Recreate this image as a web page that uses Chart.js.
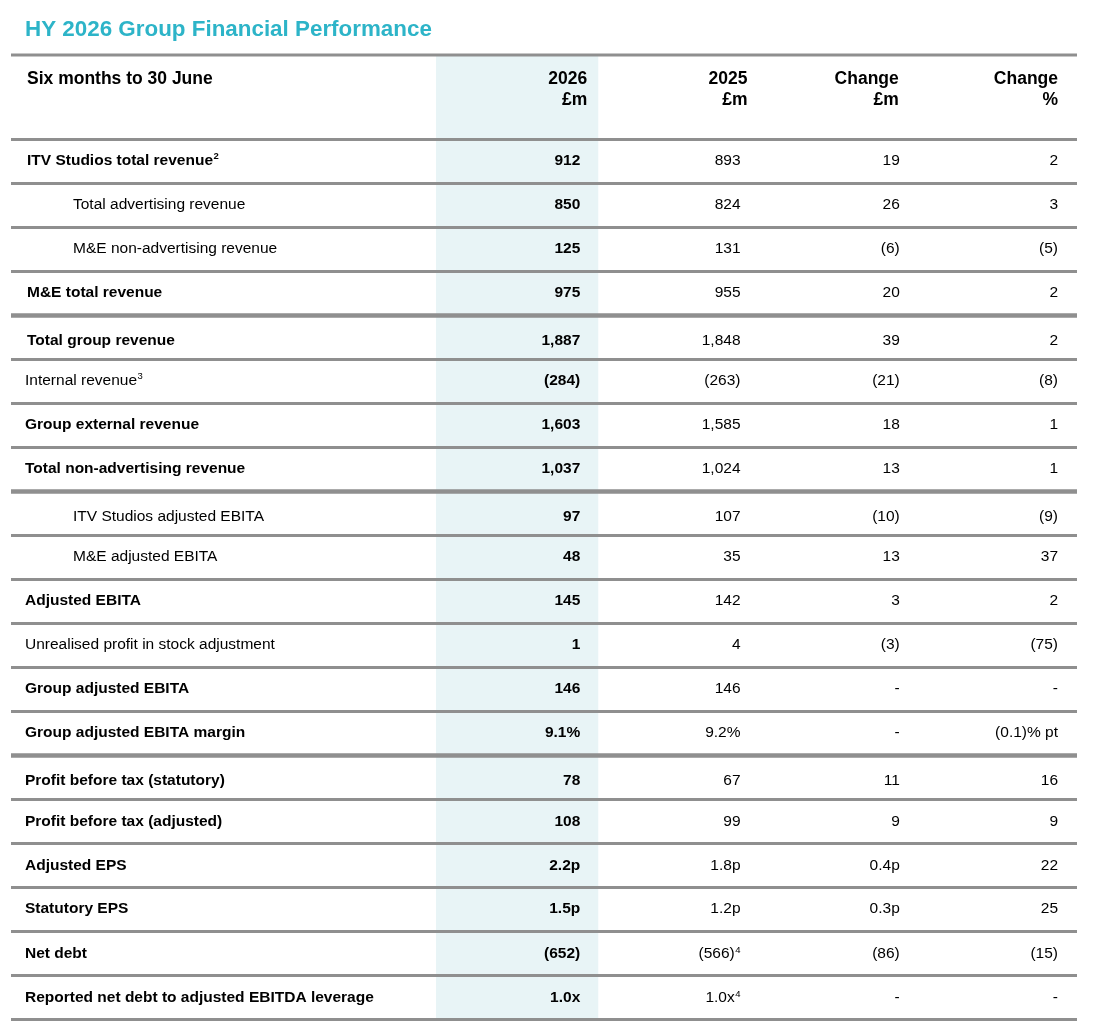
<!DOCTYPE html>
<html><head><meta charset="utf-8">
<script src="https://cdn.jsdelivr.net/npm/chart.js@4.4.1/dist/chart.umd.min.js"></script>
<style>html,body{margin:0;padding:0;background:#fff}#wrap{position:relative;width:1093px;height:1031px}</style>
</head><body><div id="wrap"><canvas id="c"></canvas></div>
<script>
// ---------- DATA ----------
const title = 'HY 2026 Group Financial Performance';
const stubHeader = 'Six months to 30 June';
const columnHeaders = [['2026', '£m'], ['2025', '£m'], ['Change', '£m'], ['Change', '%']];
const rowLabels = [
  'ITV Studios total revenue', 'Total advertising revenue', 'M&E non-advertising revenue', 'M&E total revenue',
  'Total group revenue', 'Internal revenue', 'Group external revenue', 'Total non-advertising revenue',
  'ITV Studios adjusted EBITA', 'M&E adjusted EBITA', 'Adjusted EBITA', 'Unrealised profit in stock adjustment',
  'Group adjusted EBITA', 'Group adjusted EBITA margin', 'Profit before tax (statutory)', 'Profit before tax (adjusted)',
  'Adjusted EPS', 'Statutory EPS', 'Net debt', 'Reported net debt to adjusted EBITDA leverage'
];
const rowLabelNotes = ['2', '', '', '', '', '3', '', '', '', '', '', '', '', '', '', '', '', '', '', ''];
const values2026 = ['912', '850', '125', '975', '1,887', '(284)', '1,603', '1,037', '97', '48', '145', '1', '146', '9.1%', '78', '108', '2.2p', '1.5p', '(652)', '1.0x'];
const values2025 = ['893', '824', '131', '955', '1,848', '(263)', '1,585', '1,024', '107', '35', '142', '4', '146', '9.2%', '67', '99', '1.8p', '1.2p', '(566)', '1.0x'];
const notes2025 = ['', '', '', '', '', '', '', '', '', '', '', '', '', '', '', '', '', '', '4', '4'];
const changeAbs = ['19', '26', '(6)', '20', '39', '(21)', '18', '13', '(10)', '13', '3', '(3)', '-', '-', '11', '9', '0.4p', '0.3p', '(86)', '-'];
const changePct = ['2', '3', '(5)', '2', '2', '(8)', '1', '1', '(9)', '37', '2', '(75)', '-', '(0.1)% pt', '16', '9', '22', '25', '(15)', '-'];

// ---------- STYLE ----------
const boldRows = new Set([0, 3, 4, 6, 7, 10, 12, 13, 14, 15, 16, 17, 18, 19]);
const labelX = [27, 73, 73, 27, 27, 25, 25, 25, 73, 73, 25, 25, 25, 25, 25, 25, 25, 25, 25, 25];
const sectionBreaks = new Set([4, 8, 14]);
const textShift = [-0.5, -0.5, -0.5, -0.5, 3.5, -0.5, -0.5, -0.5, 3.5, -0.5, -0.5, -0.5, -0.5, -0.5, 3.5, 1, 1, -0.5, 1, 1];
const FONT = '"Liberation Sans", Arial, sans-serif';
const columns = [values2026, values2025, changeAbs, changePct];
const columnNotes = [null, notes2025, null, null];
const columnBold = [true, false, false, false];
const headerInset = [9, 9, 18, 19];
const valueInset = [16, 16, 17, 19];

const tablePlugin = {
  id: 'tablePlugin',
  beforeDraw(chart) {
    const ctx = chart.ctx, xs = chart.scales.x, ca = chart.chartArea;
    const colW = xs.getPixelForValue(1) - xs.getPixelForValue(0);
    ctx.save();
    ctx.fillStyle = '#ffffff';
    ctx.fillRect(0, 0, chart.width, chart.height);
    const c0 = xs.getPixelForValue(0) - colW / 2;
    ctx.fillStyle = '#e8f4f6';
    ctx.fillRect(c0, 54, colW + 2, ca.bottom - 54);
    ctx.restore();
  },
  afterDraw(chart) {
    const ctx = chart.ctx, xs = chart.scales.x, ys = chart.scales.y, ca = chart.chartArea;
    const colW = xs.getPixelForValue(1) - xs.getPixelForValue(0);
    const rowH = ys.getPixelForValue(1) - ys.getPixelForValue(0);
    const left = 11, right = ca.right;
    ctx.save();
    ctx.fillStyle = '#2db4c8';
    ctx.font = 'bold 22.4px ' + FONT;
    ctx.textBaseline = 'middle';
    ctx.textAlign = 'left';
    ctx.fillText(title, 25, 30);

    function hline(y, w) {
      ctx.strokeStyle = '#8f8f8f';
      ctx.lineWidth = w;
      ctx.beginPath(); ctx.moveTo(left, y); ctx.lineTo(right, y); ctx.stroke();
    }
    hline(55, 3);
    for (let i = 0; i <= rowLabels.length; i++) {
      const y = (i < rowLabels.length ? ys.getPixelForValue(i) : ys.getPixelForValue(i - 1) + rowH) - rowH / 2;
      hline(y + 0.5, sectionBreaks.has(i) ? 4.5 : 3);
    }

    ctx.fillStyle = '#000';
    ctx.font = 'bold 17.5px ' + FONT;
    ctx.textAlign = 'left';
    ctx.fillText(stubHeader, 27, 79);
    ctx.textAlign = 'right';
    columnHeaders.forEach((h, c) => {
      const xr = xs.getPixelForValue(c) + colW / 2 - headerInset[c];
      ctx.fillText(h[0], xr, 79);
      ctx.fillText(h[1], xr, 100);
    });

    rowLabels.forEach((lab, r) => {
      const yc = ys.getPixelForValue(r) + textShift[r];
      const lw = boldRows.has(r) ? 'bold ' : '';
      ctx.textAlign = 'left';
      ctx.font = lw + '15.5px ' + FONT;
      ctx.fillText(lab, labelX[r], yc);
      if (rowLabelNotes[r]) {
        const w = ctx.measureText(lab).width;
        ctx.font = lw + '9.5px ' + FONT;
        ctx.fillText(rowLabelNotes[r], labelX[r] + w + 0.5, yc - 4);
      }
      columns.forEach((col, c) => {
        const xr = xs.getPixelForValue(c) + colW / 2 - valueInset[c];
        const fw = columnBold[c] ? 'bold ' : '';
        const note = columnNotes[c] ? columnNotes[c][r] : '';
        ctx.textAlign = 'right';
        let x = xr;
        if (note) {
          ctx.font = fw + '9.5px ' + FONT;
          ctx.fillText(note, x, yc - 4);
          x -= ctx.measureText(note).width + 0.5;
        }
        ctx.font = fw + '15.5px ' + FONT;
        ctx.fillText(col[r], x, yc);
      });
    });
    ctx.restore();
  }
};

new Chart(document.getElementById('c'), {
  type: 'bar',
  data: { labels: columnHeaders.map(h => h.join(' ')), datasets: [] },
  options: {
    responsive: true,
    maintainAspectRatio: false,
    animation: false,
    layout: { padding: { left: 436, right: 16, top: 139, bottom: 12 } },
    plugins: { legend: { display: false }, tooltip: { enabled: false }, title: { display: false } },
    scales: {
      x: { type: 'category', labels: columnHeaders.map(h => h.join(' ')), offset: true, display: false },
      y: { type: 'category', labels: rowLabels, offset: true, display: false }
    }
  },
  plugins: [tablePlugin]
});
</script></body></html>
